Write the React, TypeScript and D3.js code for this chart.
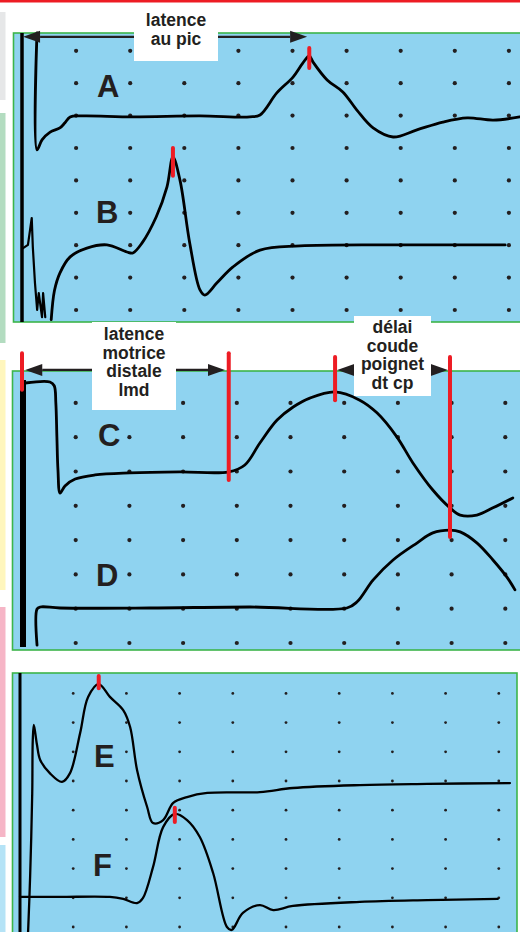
import React from "react";
import * as d3 from "d3";

type P = [number, number];

// ---- Data (time in grid divisions, amplitude in grid divisions) ----
const traceA: P[] = [
  [0.277, 8.55], [0.277, 4.94], [0.37, 5.25], [0.52, 5.49], [0.7, 5.62], [0.79, 5.77],
  [0.89, 5.96], [1.13, 5.99], [2.05, 5.96], [3.29, 5.99], [4.21, 5.96], [4.4, 6.02],
  [4.71, 6.7], [5.01, 7.19], [5.19, 7.62], [5.31, 7.84], [5.38, 7.65], [5.64, 7.1],
  [5.93, 6.73], [6.19, 6.17], [6.49, 5.62], [6.86, 5.34], [7.3, 5.56], [7.78, 5.8],
  [8.23, 5.93], [8.71, 5.86], [9.2, 5.96],
];
const traceB: P[] = [
  [0.02, 1.91], [0.11, 2.01], [0.18, 2.84], [0.2, 1.94], [0.24, 0.83], [0.28, 0.0],
  [0.31, 0.52], [0.37, -0.22], [0.39, 0.52], [0.43, -0.22],
];
const traceB2: P[] = [
  [0.54, -0.3], [0.6, 0.6], [0.7, 1.14], [0.89, 1.64], [1.2, 1.91], [1.57, 2.01], [1.94, 1.79],
  [2.05, 1.76], [2.22, 2.07], [2.48, 2.87], [2.68, 3.8], [2.79, 4.72], [2.92, 4.01],
  [3.1, 2.07], [3.29, 0.62], [3.38, 0.46], [3.6, 0.83], [3.9, 1.33], [4.4, 1.85],
  [5.14, 1.98], [6.99, 2.01], [8.93, 2.01],
];
const traceC: P[] = [
  [0.06, 7.58], [0.52, 7.61], [0.6, 7.5], [0.63, 7.0], [0.65, 6.0], [0.67, 5.04], [0.71, 4.37],
  [0.8, 4.58], [0.99, 4.78], [1.36, 4.9], [2.01, 4.96], [2.94, 4.99], [3.85, 4.99],
  [4.15, 5.19], [4.43, 5.83], [4.75, 6.5], [5.05, 6.88], [5.36, 7.14], [5.83, 7.32],
  [6.29, 7.08], [6.61, 6.71], [6.98, 6.01], [7.28, 5.25], [7.65, 4.46], [7.97, 3.94],
  [8.16, 3.73], [8.47, 3.73], [8.77, 3.94], [9.14, 4.23],
];
const traceD: P[] = [
  [0.28, -0.06], [0.28, 0.99], [0.34, 1.05], [0.71, 1.02], [2.38, 1.02], [4.25, 1.05],
  [6.05, 1.02], [6.24, 1.2], [6.54, 1.84], [6.91, 2.42], [7.36, 2.92], [7.65, 3.21],
  [7.97, 3.29], [8.16, 3.24], [8.47, 2.92], [8.77, 2.42], [9.03, 1.92], [9.18, 1.55],
];
const traceE: P[] = [
  [0.15, -0.27], [0.19, 1.71], [0.23, 4.59], [0.24, 6.4], [0.26, 6.92], [0.32, 6.23],
  [0.38, 5.72], [0.56, 5.27], [0.79, 4.97], [0.94, 5.27], [1.13, 6.64], [1.28, 7.88],
  [1.48, 8.32], [1.69, 7.88], [1.94, 7.43], [2.07, 6.85], [2.2, 5.38], [2.39, 4.11],
  [2.5, 3.56], [2.69, 3.66], [2.88, 4.25], [3.14, 4.45], [3.52, 4.59], [4.51, 4.62],
  [5.13, 4.76], [6.39, 4.86], [7.65, 4.9], [9.21, 4.93],
];
const traceF: P[] = [
  [0.0, 1.03], [0.75, 1.03], [1.69, 1.03], [1.94, 0.96], [2.2, 0.82], [2.31, 0.99],
  [2.5, 2.05], [2.69, 3.42], [2.91, 3.87], [3.14, 3.66], [3.38, 3.08], [3.63, 1.85],
  [3.89, 0.0], [3.98, -0.1], [4.19, 0.48], [4.51, 0.75], [4.76, 0.58], [5.13, 0.72],
  [6.39, 0.86], [7.65, 0.92], [8.98, 0.96],
];

// red markers: [t, vTop, vBottom]
const markers1: [number, number, number][] = [[5.31, 8.09, 7.47], [2.79, 5.0, 4.14]];
const markers2: [number, number, number][] = [[0, 8.45, 7.38], [3.85, 8.45, 4.75], [5.83, 8.34, 7.08], [7.97, 8.34, 3.09]];
const markers3: [number, number, number][] = [[1.48, 8.6, 8.18], [2.91, 4.08, 3.6]];

const letters1 = ["A", "B"];
const letters2 = ["C", "D"];
const letters3 = ["E", "F"];
const labelPic = ["latence", "au pic"];
const labelLmd = ["latence", "motrice", "distale", "lmd"];
const labelDelai = ["délai", "coude", "poignet", "dt cp"];

const cols = d3.range(1, 10);

const BG = "#8fd3f0";
const GREEN = "#3cb54a";
const RED = "#ed1c24";
const INK = "#231f20";
const FONT = "'Liberation Sans', Arial, Helvetica, sans-serif";

function Arrow({ x1, x2, y }: { x1: number; x2: number; y: number }) {
  const h = 17, w = 6;
  return (
    <g>
      <line x1={x1 + h} x2={x2 - h} y1={y} y2={y} stroke={INK} strokeWidth={2.2} />
      <polygon points={`${x1},${y} ${x1 + h},${y - w} ${x1 + h},${y + w}`} fill={INK} />
      <polygon points={`${x2},${y} ${x2 - h},${y - w} ${x2 - h},${y + w}`} fill={INK} />
    </g>
  );
}

function Label({ lines, cx, y0, dy }: { lines: string[]; cx: number; y0: number; dy: number }) {
  return (
    <text fontFamily={FONT} fontWeight="bold" fontSize={17.5} fill={INK} textAnchor="middle">
      {lines.map((l, i) => (
        <tspan key={i} x={cx} y={y0 + i * dy}>{l}</tspan>
      ))}
    </text>
  );
}

export default function App() {
  const x1 = d3.scaleLinear().domain([0, 9]).range([22, 22 + 9 * 54.1]);
  const y1 = d3.scaleLinear().domain([0, 8]).range([310, 310 - 8 * 32.4]);
  const x2 = d3.scaleLinear().domain([0, 9]).range([22, 22 + 9 * 53.7]);
  const y2 = d3.scaleLinear().domain([0, 7]).range([643, 643 - 7 * 34.3]);
  const x3 = d3.scaleLinear().domain([0, 9]).range([20, 20 + 9 * 53.2]);
  const y3 = d3.scaleLinear().domain([0, 8]).range([927, 927 - 8 * 29.2]);

  const mk = (xs: d3.ScaleLinear<number, number>, ys: d3.ScaleLinear<number, number>) =>
    d3.line<P>().x((d) => xs(d[0])).y((d) => ys(d[1])).curve(d3.curveCatmullRom.alpha(0.5));
  const l1 = mk(x1, y1), l2 = mk(x2, y2), l3 = mk(x3, y3);
  const lin1 = d3.line<P>().x((d) => x1(d[0])).y((d) => y1(d[1]));

  const dots = (xs: any, ys: any, rows: number, r: number, key: string) =>
    cols.flatMap((c) =>
      d3.range(0, rows + 1).map((rw) => (
        <circle key={`${key}-${c}-${rw}`} cx={xs(c)} cy={ys(rw)} r={r} fill={INK} />
      ))
    );

  const redMarks = (ms: [number, number, number][], xs: any, ys: any, key: string) =>
    ms.map((m, i) => (
      <line key={`${key}${i}`} x1={xs(m[0])} x2={xs(m[0])} y1={ys(m[1])} y2={ys(m[2])}
        stroke={RED} strokeWidth={4} strokeLinecap="round" />
    ));

  const traceStyle = { fill: "none", stroke: "#000", strokeLinejoin: "round" as const, strokeLinecap: "round" as const };

  return (
    <svg width={520} height={932} style={{ position: "absolute", left: 0, top: 0, background: "#fff" }}>
      {/* side tabs */}
      <rect x={0} y={12} width={5.5} height={88} fill="#e6e7e8" />
      <rect x={0} y={113} width={5.5} height={230} fill="#b3dcc0" />
      <rect x={0} y={360} width={5.5} height={230} fill="#fff6bd" />
      <rect x={0} y={607} width={5.5} height={230} fill="#f6b5c6" />
      <rect x={0} y={845} width={5.5} height={90} fill="#b5e3f6" />
      <rect x={0} y={0} width={520} height={2.5} fill={RED} />

      {/* panel 1 */}
      <rect x={13.5} y={33} width={520} height={289} fill={BG} stroke={GREEN} strokeWidth={1.6} />
      {dots(x1, y1, 8, 2.1, "p1")}
      <line x1={x1(0)} x2={x1(0)} y1={33} y2={322} stroke="#000" strokeWidth={3.5} />
      <path d={lin1(traceB) || ""} {...traceStyle} strokeWidth={2.2} />
      <path d={l1(traceB2) || ""} {...traceStyle} strokeWidth={2.8} />
      <path d={l1(traceA) || ""} {...traceStyle} strokeWidth={2.8} />
      {redMarks(markers1, x1, y1, "m1")}
      {letters1.map((t, i) => (
        <text key={t} x={[97, 96][i]} y={[97, 223][i]} fontFamily={FONT} fontWeight="bold" fontSize={31} fill={INK}>{t}</text>
      ))}
      <Arrow x1={x1(0.02)} x2={x1(5.27)} y={y1(8.43)} />
      <rect x={134} y={6} width={84} height={55} fill="#fff" />
      <Label lines={labelPic} cx={176} y0={26} dy={18.5} />

      {/* panel 2 */}
      <rect x={12.5} y={371} width={520} height={279} fill={BG} stroke={GREEN} strokeWidth={1.6} />
      {dots(x2, y2, 7, 2.1, "p2")}
      <line x1={x2(0) + 1} x2={x2(0) + 1} y1={380} y2={647} stroke="#000" strokeWidth={6} />
      <path d={l2(traceD) || ""} {...traceStyle} strokeWidth={2.8} />
      <path d={l2(traceC) || ""} {...traceStyle} strokeWidth={2.8} />
      {redMarks(markers2, x2, y2, "m2")}
      {letters2.map((t, i) => (
        <text key={t} x={[98, 96][i]} y={[446, 586][i]} fontFamily={FONT} fontWeight="bold" fontSize={31} fill={INK}>{t}</text>
      ))}
      <Arrow x1={x2(0.06)} x2={x2(3.78)} y={y2(7.96)} />
      <Arrow x1={x2(5.87)} x2={x2(7.93)} y={y2(7.96)} />
      <rect x={92} y={322} width={84} height={88} fill="#fff" />
      <rect x={354} y={316} width={77} height={80} fill="#fff" />
      <Label lines={labelLmd} cx={134} y0={340} dy={18.7} />
      <Label lines={labelDelai} cx={392.5} y0={333} dy={18.5} />

      {/* panel 3 */}
      <rect x={12.5} y={673} width={504.5} height={300} fill={BG} stroke={GREEN} strokeWidth={1.6} />
      {dots(x3, y3, 8, 1.4, "p3")}
      <line x1={x3(0)} x2={x3(0)} y1={673} y2={932} stroke="#000" strokeWidth={3} />
      <path d={l3(traceF) || ""} {...traceStyle} strokeWidth={2.3} />
      <path d={l3(traceE) || ""} {...traceStyle} strokeWidth={2.3} />
      {redMarks(markers3, x3, y3, "m3")}
      {letters3.map((t, i) => (
        <text key={t} x={[94, 93][i]} y={[767, 876][i]} fontFamily={FONT} fontWeight="bold" fontSize={31} fill={INK}>{t}</text>
      ))}
    </svg>
  );
}
